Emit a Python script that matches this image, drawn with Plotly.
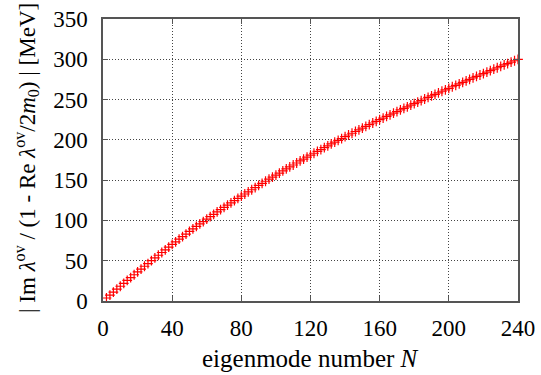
import plotly.graph_objects as go

# eigenmode index N (even modes) and the scaled imaginary part in MeV
modes = list(range(2, 242, 2))
im_scaled = [
    3.7, 7.4, 11.0, 14.7, 18.3, 21.9, 25.5, 29.0, 32.6, 36.1,
    39.6, 43.1, 46.5, 50.0, 53.4, 56.8, 60.2, 63.5, 66.9, 70.2,
    73.5, 76.7, 80.0, 83.1, 86.3, 89.4, 92.5, 95.6, 98.6, 101.7,
    104.6, 107.6, 110.5, 113.4, 116.3, 119.1, 121.9, 124.7, 127.4, 130.1,
    132.8, 135.5, 138.1, 140.8, 143.4, 146.0, 148.6, 151.2, 153.8, 156.3,
    158.8, 161.4, 163.9, 166.4, 168.8, 171.3, 173.8, 176.2, 178.6, 181.0,
    183.4, 185.7, 188.0, 190.3, 192.6, 194.9, 197.2, 199.4, 201.6, 203.9,
    206.0, 208.2, 210.4, 212.5, 214.6, 216.7, 218.8, 220.9, 223.0, 225.0,
    227.0, 229.1, 231.1, 233.1, 235.1, 237.1, 239.0, 241.0, 243.0, 244.9,
    246.9, 248.8, 250.7, 252.7, 254.6, 256.5, 258.4, 260.3, 262.1, 264.0,
    265.9, 267.7, 269.6, 271.4, 273.2, 275.1, 276.9, 278.7, 280.5, 282.3,
    284.1, 285.9, 287.7, 289.5, 291.2, 293.0, 294.7, 296.5, 298.2, 300.0,
]

x_ticks = [0, 40, 80, 120, 160, 200, 240]
y_ticks = [0, 50, 100, 150, 200, 250, 300, 350]

FONT = "Liberation Serif"

fig = go.Figure(
    go.Scatter(
        x=modes,
        y=im_scaled,
        mode="markers",
        marker=dict(symbol="cross-thin", size=7,
                    line=dict(color="#ff0000", width=1.2)),
        cliponaxis=False,
        showlegend=False,
    )
)

axis_common = dict(
    showline=True, linecolor="#555555", linewidth=1.5, mirror="allticks",
    ticks="inside", ticklen=5, tickcolor="#555555", tickwidth=1,
    showgrid=True, gridcolor="#444444", griddash="1px,2px", gridwidth=1,
    zeroline=False, automargin=False,
    tickfont=dict(family=FONT, size=23, color="black"),
)

fig.update_xaxes(
    range=[0, 240], tickvals=x_ticks, ticklabelstandoff=6,
    **axis_common,
)
fig.update_yaxes(
    range=[0, 350], tickvals=y_ticks, ticklabelstandoff=9,
    **axis_common,
)

fig.add_annotation(
    text="eigenmode number <i>N</i>",
    xref="paper", yref="paper", x=0.5, y=0, yshift=-57,
    xanchor="center", yanchor="middle", showarrow=False,
    font=dict(family=FONT, size=25, color="black"),
)
fig.add_annotation(
    text="| Im <i>λ</i><sup>ov</sup> / (1 - Re <i>λ</i><sup>ov</sup>/2<i>m</i><sub>0</sub>) | [MeV]",
    xref="paper", yref="paper", x=0, y=0.5, yshift=2, xshift=-77,
    xanchor="center", yanchor="middle", textangle=-90, showarrow=False,
    font=dict(family=FONT, size=23, color="black"),
)

fig.update_layout(
    width=541, height=375,
    margin=dict(l=103, r=23, t=19, b=74, autoexpand=False),
    paper_bgcolor="white", plot_bgcolor="white",
    font=dict(family=FONT, color="black"),
)

fig.write_html("out.html")
